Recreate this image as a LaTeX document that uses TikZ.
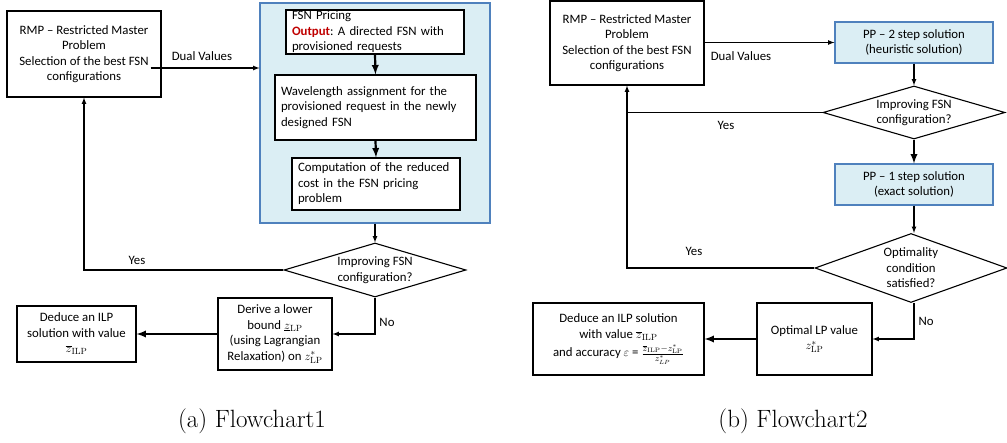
\documentclass[tikz,border=0pt]{standalone}
\usepackage{fontspec}
\newfontfamily\boxfont{Carlito}
\usetikzlibrary{shapes.geometric}
\definecolor{paleblue}{HTML}{DBEEF4}
\definecolor{edgeblue}{HTML}{4F81BD}
\definecolor{outred}{HTML}{C00000}

\begin{document}
\begin{tikzpicture}[x=1pt,y=-1pt,>=latex,
  txt/.style={font=\boxfont\fontsize{12.8}{15.5}\selectfont},
  box/.style={txt,draw,line width=1.1pt,align=center,inner sep=0pt},
  bluebox/.style={box,fill=paleblue,draw=edgeblue},
  leftbox/.style={box,align=left,inner xsep=6pt},
  dia/.style={txt,draw,line width=1.1pt,diamond,align=center,inner sep=0pt,aspect=3.3},
  line/.style={line width=1.2pt},
  thickline/.style={line width=2.2pt},
  captext/.style={font=\fontsize{25}{30}\selectfont,anchor=base}]

\useasboundingbox (0,0) rectangle (1007,443);

% (a)
\node[box,minimum width=154pt,minimum height=86pt] (rmpA) at (84,54)
  {RMP \textendash{} Restricted Master\\Problem\\Selection of the best FSN\\configurations};
\node[bluebox,minimum width=230pt,minimum height=220pt] (bgA) at (375,113) {};
\node[leftbox,fill=white,text width=166pt,minimum height=44pt] (fsnA) at (375,32)
  {FSN Pricing\\\textcolor{outred}{\textbf{Output}}:\ A directed FSN with\\provisioned requests};
\node[leftbox,fill=white,text width=189pt,minimum height=65pt] (waveA) at (375.5,107.5)
  {Wavelength assignment for the\\provisioned request in the newly\\designed FSN};
\node[leftbox,fill=white,text width=156pt,minimum height=52pt] (compA) at (376,184)
  {Computation of the reduced\\cost in the FSN pricing\\problem};
\node[dia,minimum width=182pt,minimum height=54pt] (decA) at (375,270)
  {Improving FSN\\configuration?};
\node[box,minimum width=114pt,minimum height=72pt] (deriveA) at (275,334)
  {Derive a lower\\bound $\underline{z}_{\mathrm{LP}}$\\(using Lagrangian\\Relaxation) on $z^*_{\mathrm{LP}}$};
\node[box,minimum width=119pt,minimum height=56pt] (ilpA) at (76.5,334)
  {Deduce an ILP\\solution with value\\$\overline{z}_{\mathrm{ILP}}$};

\node[txt] (dualA) at (202,56) {Dual Values};
\node[txt] (yesA) at (137,260) {Yes};
\node[txt] (noA) at (387,322) {No};

\coordinate (dvA) at ([xshift=-11pt,yshift=-14pt]rmpA.east);
\draw[line,->] (dvA) -- (dvA -| bgA.west);
\draw[thickline,->] (fsnA.south) -- (waveA.north);
\draw[thickline,->] (waveA.south) -- (compA.north);
\draw[line,->] (bgA.south) -- (decA.north);
\draw[line,->] (decA.west) -| (rmpA.south);
\draw[line,->] (decA.south) |- (deriveA.east);
\draw[thickline,->] (deriveA.west) -- (ilpA.east);

\node[captext] (capA) at (252,428) {(a)\ Flowchart1};

% (b)
\node[box,minimum width=154pt,minimum height=84pt] (rmpB) at (627,43)
  {RMP \textendash{} Restricted Master\\Problem\\Selection of the best FSN\\configurations};
\node[bluebox,minimum width=158pt,minimum height=41pt] (pp2B) at (914,42.5)
  {PP \textendash{} 2 step solution\\(heuristic solution)};
\node[dia,minimum width=182pt,minimum height=53pt] (dec1B) at (914,112.5)
  {Improving FSN\\configuration?};
\node[bluebox,minimum width=158pt,minimum height=41pt] (pp1B) at (914,184.5)
  {PP \textendash{} 1 step solution\\(exact solution)};
\node[dia,aspect=2.8,minimum width=192pt,minimum height=69pt] (dec2B) at (911,268)
  {Optimality\\condition\\satisfied?};
\node[box,minimum width=115pt,minimum height=72pt] (optB) at (814.5,339)
  {Optimal LP value\\$z^*_{\mathrm{LP}}$};
\node[box,minimum width=171pt,minimum height=72pt] (dedB) at (618.5,339)
  {Deduce an ILP solution\\with value $\overline{z}_{\mathrm{ILP}}$\\[3pt]and accuracy $\varepsilon$ = $\frac{\overline{z}_{\mathrm{ILP}}-z^*_{\mathrm{LP}}}{\rule{0pt}{7pt}z^*_{LP}}$};

\node[txt] (dualB) at (741,56) {Dual Values};
\node[txt] (yesB) at (726,125) {Yes};
\node[txt] (yesC) at (694,251) {Yes};
\node[txt] (noB) at (926,321) {No};

\coordinate (joinB) at (rmpB.south |- dec1B.west);
\draw[line,->] (rmpB.east |- pp2B.west) -- (pp2B.west);
\draw[line,->] (pp2B.south) -- (pp2B.south |- dec1B.north);
\draw[thickline,->] (dec1B.south) -- (pp1B.north);
\draw[line,->] (pp1B.south) -- (pp1B.south |- dec2B.north);
\draw[line] (dec1B.west) -- (joinB);
\draw[line,->] (dec2B.west) -| (rmpB.south);
\draw[line,->] (dec2B.south -| pp1B.south) |- (optB.east);
\draw[thickline,->] (optB.west) -- (dedB.east);

\node[captext] (capB) at (793,428) {(b)\ Flowchart2};

\end{tikzpicture}
\end{document}
